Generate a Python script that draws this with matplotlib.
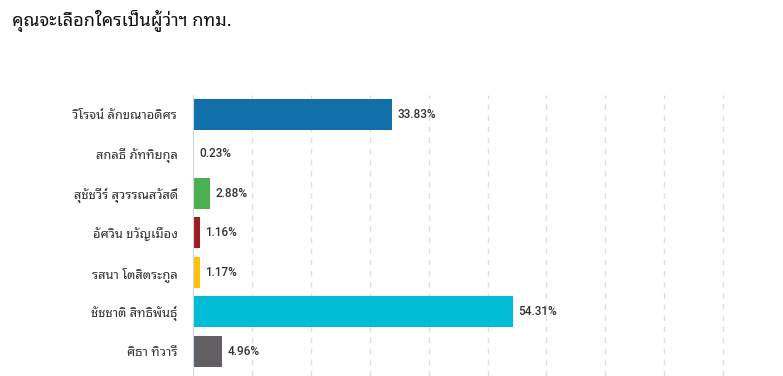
import matplotlib
matplotlib.use('Agg')
import matplotlib.pyplot as plt

title = 'คุณจะเลือกใครเป็นผู้ว่าฯ กทม.'
candidates = ['วิโรจน์ ลักขณาอดิศร', 'สกลธี ภัททิยกุล', 'สุชัชวีร์ สุวรรณสวัสดิ์',
              'อัศวิน ขวัญเมือง', 'รสนา โตสิตระกูล', 'ชัชชาติ สิทธิพันธุ์', 'ศิธา ทิวารี']
shares = [33.83, 0.23, 2.88, 1.16, 1.17, 54.31, 4.96]
colors = ['#1170aa', '#1f77b4', '#4caf50', '#a01c22', '#ffc107', '#00bcd4', '#625f63']

thai = ['Noto Sans Thai Looped', 'DejaVu Sans']

fig = plt.figure(figsize=(7.83, 3.76), dpi=100)
W, H = 783, 376
ax = fig.add_axes([193 / W, 0, (782 - 193) / W, (376 - 94.5) / H])

pos = list(range(len(candidates)))
ax.barh(pos, shares, height=0.78, color=colors, zorder=3)
ax.set_ylim(6.5 + 5 / 39.5, -0.5)
ax.set_xlim(0, 100)

for p, v in zip(pos, shares):
    ax.text(v + 0.9, p, f'{v:.2f}%', va='center', ha='left', fontsize=8.5,
            color='#333333', weight='medium', family=['Roboto', 'DejaVu Sans'])

ax.set_yticks(pos)
ax.set_yticklabels(candidates, family=thai, fontsize=9.3, color='#333333')
ax.tick_params(axis='y', length=0, pad=11)
ax.set_xticks(range(10, 100, 10))
ax.tick_params(axis='x', length=0, labelbottom=False)
ax.grid(axis='x', color='#e0e0e0', linestyle=(0, (4, 4)), linewidth=1, zorder=0)

for s in ['top', 'right', 'bottom']:
    ax.spines[s].set_visible(False)
ax.spines['left'].set_color('#ccd6eb')
ax.spines['left'].set_zorder(4)

fig.text(12 / W, 1 - 21 / H, title, family=thai, fontsize=13, color='#111111',
         va='center', ha='left')

fig.savefig('out.png', dpi=100)
